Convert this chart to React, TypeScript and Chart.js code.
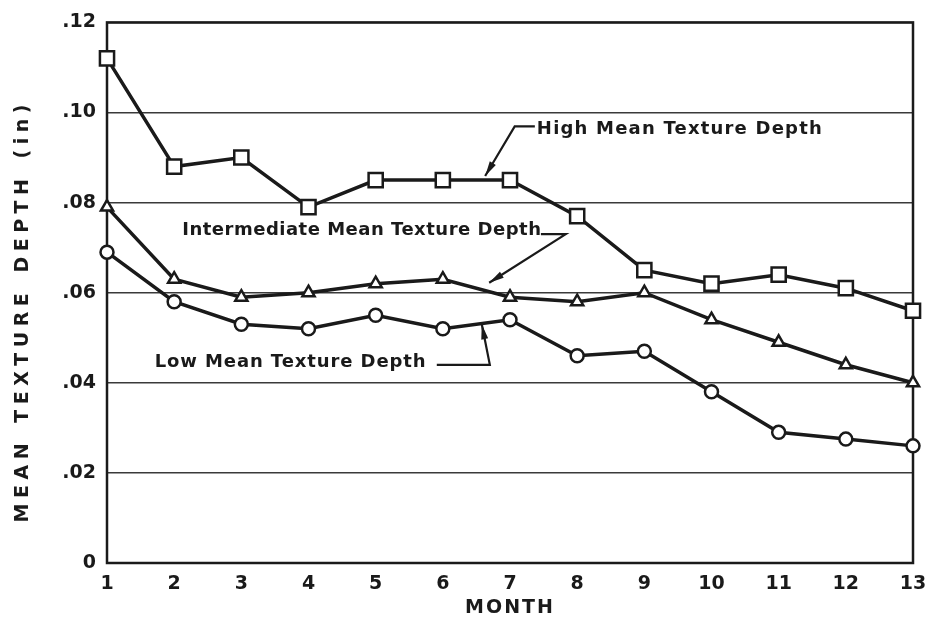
import React, { useEffect, useRef } from "react";
import { Chart, registerables } from "chart.js";

Chart.register(...registerables);

// ---- data ----
const months: number[] = [1, 2, 3, 4, 5, 6, 7, 8, 9, 10, 11, 12, 13];
const highMean: number[] = [0.112, 0.088, 0.09, 0.079, 0.085, 0.085, 0.085, 0.077, 0.065, 0.062, 0.064, 0.061, 0.056];
const intermediateMean: number[] = [0.079, 0.063, 0.059, 0.06, 0.062, 0.063, 0.059, 0.058, 0.06, 0.054, 0.049, 0.044, 0.04];
const lowMean: number[] = [0.069, 0.058, 0.053, 0.052, 0.055, 0.052, 0.054, 0.046, 0.047, 0.038, 0.029, 0.0275, 0.026];
const yTickLabels: string[] = ["0", ".02", ".04", ".06", ".08", ".10", ".12"];
const xTitle = "MONTH";
const yTitle = "MEAN TEXTURE DEPTH (in)";

// annotation labels with leader arrows, in data units (month, depth)
const notes = [
  {
    text: "High Mean Texture Depth",
    spacing: "1.2px",
    at: [7.4, 0.0962],
    path: [[7.37, 0.0969], [7.07, 0.0969], [6.63, 0.0859]],
  },
  {
    text: "Intermediate Mean Texture Depth",
    spacing: "0.5px",
    at: [2.12, 0.0738],
    path: [[7.46, 0.073], [7.83, 0.073], [6.69, 0.0622]],
  },
  {
    text: "Low Mean Texture Depth",
    spacing: "0.9px",
    at: [1.71, 0.0446],
    path: [[5.91, 0.044], [6.7, 0.044], [6.58, 0.053]],
  },
];

const FONT = '"DejaVu Sans", sans-serif';
const INK = "#1a1a1a";

const decorPlugin = {
  id: "decor",
  beforeDatasetsDraw(chart: any) {
    const { ctx, chartArea: a } = chart;
    ctx.save();
    ctx.strokeStyle = INK;
    ctx.lineWidth = 2.5;
    ctx.strokeRect(a.left, a.top, a.right - a.left, a.bottom - a.top);
    ctx.restore();
  },
  afterDraw(chart: any) {
    const { ctx, chartArea: a } = chart;
    const xs = chart.scales.x;
    const ys = chart.scales.y;
    const px = (m: number) => xs.getPixelForValue(m - 1);
    const py = (v: number) => ys.getPixelForValue(v);
    ctx.save();
    ctx.fillStyle = INK;
    ctx.strokeStyle = INK;
    // x title
    ctx.font = `bold 19px ${FONT}`;
    (ctx as any).letterSpacing = "2px";
    ctx.textAlign = "center";
    ctx.textBaseline = "middle";
    ctx.fillText(xTitle, (a.left + a.right) / 2, 608);
    // y title
    ctx.save();
    ctx.translate(23, (a.top + a.bottom) / 2 + 18);
    ctx.rotate(-Math.PI / 2);
    (ctx as any).letterSpacing = "5.5px";
    (ctx as any).wordSpacing = "3px";
    ctx.fillText(yTitle, 0, 0);
    ctx.restore();
    (ctx as any).wordSpacing = "0px";
    // annotations
    ctx.font = `bold 18px ${FONT}`;
    ctx.textAlign = "left";
    for (const n of notes) {
      (ctx as any).letterSpacing = n.spacing;
      ctx.fillText(n.text, px(n.at[0]), py(n.at[1]));
      const pts = n.path.map((p) => [px(p[0]), py(p[1])]);
      ctx.lineWidth = 2.2;
      ctx.beginPath();
      ctx.moveTo(pts[0][0], pts[0][1]);
      for (let i = 1; i < pts.length; i++) ctx.lineTo(pts[i][0], pts[i][1]);
      ctx.stroke();
      const [x1, y1] = pts[pts.length - 2];
      const [x2, y2] = pts[pts.length - 1];
      const ang = Math.atan2(y2 - y1, x2 - x1);
      const L = 15, W = 3.5;
      ctx.beginPath();
      ctx.moveTo(x2, y2);
      ctx.lineTo(x2 - L * Math.cos(ang) + W * Math.sin(ang), y2 - L * Math.sin(ang) - W * Math.cos(ang));
      ctx.lineTo(x2 - L * Math.cos(ang) - W * Math.sin(ang), y2 - L * Math.sin(ang) + W * Math.cos(ang));
      ctx.closePath();
      ctx.fill();
    }
    (ctx as any).letterSpacing = "0px";
    ctx.restore();
  },
};

function series(values: number[], style: string, radius: number) {
  return {
    data: values,
    borderColor: INK,
    borderWidth: 3.5,
    pointStyle: style,
    pointRadius: radius,
    pointBackgroundColor: "#ffffff",
    pointBorderColor: INK,
    pointBorderWidth: 2.5,
    tension: 0,
    fill: false,
  };
}

export default function App() {
  const ref = useRef<HTMLCanvasElement>(null);
  useEffect(() => {
    const chart = new Chart(ref.current as HTMLCanvasElement, {
      type: "line",
      data: {
        labels: months.map(String),
        datasets: [
          series(highMean, "rect", 10),
          series(intermediateMean, "triangle", 7),
          series(lowMean, "circle", 6.5),
        ] as any,
      },
      options: {
        animation: false,
        responsive: false,
        layout: { padding: { top: 17, right: 18, left: 0, bottom: 0 } },
        plugins: { legend: { display: false }, tooltip: { enabled: false } },
        scales: {
          x: {
            type: "category",
            offset: false,
            grid: { display: false },
            border: { display: false },
            ticks: {
              color: INK,
              font: { family: FONT, size: 19, weight: "bold" },
              padding: 2,
              autoSkip: false,
              maxRotation: 0,
            },
            afterFit: (s: any) => {
              s.height = 69;
            },
          },
          y: {
            min: 0,
            max: 0.12,
            grid: { color: "#3a3a3a", lineWidth: 1.5, drawTicks: false },
            border: { display: false },
            ticks: {
              stepSize: 0.02,
              color: INK,
              padding: 11,
              font: { family: FONT, size: 19, weight: "bold" },
              callback: (v: any) => yTickLabels[Math.round(Number(v) / 0.02)],
            },
            afterFit: (s: any) => {
              s.width = 107;
            },
          },
        },
      } as any,
      plugins: [decorPlugin],
    });
    return () => chart.destroy();
  }, []);
  return (
    <div style={{ position: "absolute", left: 0, top: 0, width: 931, height: 632, background: "#fff" }}>
      <canvas ref={ref} width={931} height={632} style={{ display: "block" }} />
    </div>
  );
}
